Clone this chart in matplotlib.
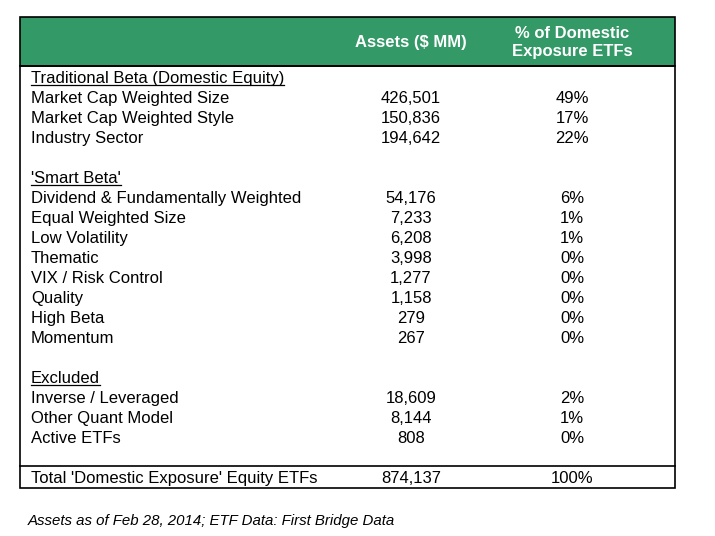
import matplotlib
matplotlib.use("Agg")
import matplotlib.pyplot as plt

plt.rcParams['font.family'] = ['Liberation Sans', 'DejaVu Sans']

# table data
col_headers = ["Assets ($ MM)", "% of Domestic\nExposure ETFs"]

sections = ["Traditional Beta (Domestic Equity)", "'Smart Beta'", "Excluded"]

trad_labels = ["Market Cap Weighted Size", "Market Cap Weighted Style", "Industry Sector"]
trad_assets = ["426,501", "150,836", "194,642"]
trad_pct = ["49%", "17%", "22%"]

smart_labels = ["Dividend & Fundamentally Weighted", "Equal Weighted Size", "Low Volatility",
                "Thematic", "VIX / Risk Control", "Quality", "High Beta", "Momentum"]
smart_assets = ["54,176", "7,233", "6,208", "3,998", "1,277", "1,158", "279", "267"]
smart_pct = ["6%", "1%", "1%", "0%", "0%", "0%", "0%", "0%"]

excl_labels = ["Inverse / Leveraged", "Other Quant Model", "Active ETFs"]
excl_assets = ["18,609", "8,144", "808"]
excl_pct = ["2%", "1%", "0%"]

total_label = "Total 'Domestic Exposure' Equity ETFs"
total_assets = "874,137"
total_pct = "100%"

footnote = "Assets as of Feb 28, 2014; ETF Data: First Bridge Data"

green = "#339966"
fs = 12

W, H = 715, 536
fig = plt.figure(figsize=(W / 100, H / 100), dpi=100)
ax = fig.add_axes([0, 0, 1, 1])
ax.set_xlim(0, W)
ax.set_ylim(H, 0)
ax.axis('off')

left, right = 20, 675
top, head_bot = 17, 66
sep_y, bottom = 466, 488
x_lab, x_a, x_p = 31, 411, 572

# header
ax.add_patch(plt.Rectangle((left, top), right - left, head_bot - top, facecolor=green,
                           edgecolor='black', lw=1.2, zorder=1))
ax.add_patch(plt.Rectangle((left, head_bot), right - left, bottom - head_bot, facecolor='none',
                           edgecolor='black', lw=1.2, zorder=2))
ax.plot([left, right], [sep_y, sep_y], color='black', lw=1.2)
ax.text(x_a, 46.5, col_headers[0], color='white', fontsize=fs, fontweight='bold',
        ha='center', va='baseline')
ax.text(x_p, 56, col_headers[1], color='white', fontsize=fs, fontweight='bold',
        ha='center', va='baseline', multialignment='center', linespacing=1.25)

groups = [(trad_labels, trad_assets, trad_pct),
          (smart_labels, smart_assets, smart_pct),
          (excl_labels, excl_assets, excl_pct)]

# baselines
y0, pitch = 83.3, 20
row = 0
underlined = []
for sec, (labs, assets, pcts) in zip(sections, groups):
    y = y0 + row * pitch
    underlined.append((ax.text(x_lab, y, sec, fontsize=fs, ha='left', va='baseline'), y))
    row += 1
    for lab, a, p in zip(labs, assets, pcts):
        y = y0 + row * pitch
        ax.text(x_lab, y, lab, fontsize=fs, ha='left', va='baseline')
        ax.text(x_a, y, a, fontsize=fs, ha='center', va='baseline')
        ax.text(x_p, y, p, fontsize=fs, ha='center', va='baseline')
        row += 1
    row += 1

ty = 483
ax.text(x_lab, ty, total_label, fontsize=fs, ha='left', va='baseline')
ax.text(x_a, ty, total_assets, fontsize=fs, ha='center', va='baseline')
ax.text(x_p, ty, total_pct, fontsize=fs, ha='center', va='baseline')

ax.text(28, 524.5, footnote, fontsize=10.8, style='italic', ha='left', va='baseline')

# underline section headers
fig.canvas.draw()
inv = ax.transData.inverted()
for t, y in underlined:
    bb = t.get_window_extent()
    (x1, _), (x2, _) = inv.transform([[bb.x0, bb.y0], [bb.x1, bb.y1]])
    ax.plot([x1, x2], [y + 1.8, y + 1.8], color='black', lw=0.9)

fig.savefig("out.png", dpi=100)
